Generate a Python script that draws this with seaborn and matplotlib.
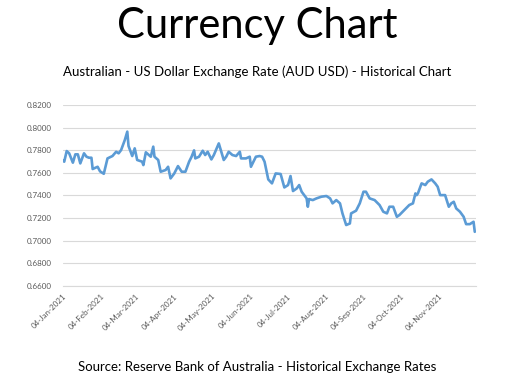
import pandas as pd
import numpy as np
import matplotlib.pyplot as plt
import matplotlib.dates as mdates
import seaborn as sns

# --- DATA ---
start_date = '2021-01-04'

# days since 04-Jan-2021
day_offsets = [0, 1, 3, 5, 8, 10, 12, 14, 17, 19, 21, 23, 24, 28, 30, 33, 36, 40, 43, 45,
               47, 50, 52, 53, 56, 58, 60, 64, 65, 67, 71, 73, 74, 77, 79, 83, 85, 87, 90, 93,
               96, 99, 102, 104, 106, 107, 110, 113, 115, 117, 120, 122, 126, 130, 132, 134,
               137, 140, 143, 144, 148, 151, 152, 156, 159,
               161, 163, 166, 169, 172, 176, 179, 182, 184, 186, 189, 191, 193, 197, 198, 199,
               202, 205, 209, 213, 216, 218, 221, 224, 226, 229, 232, 233, 237, 240, 243, 245,
               248, 252, 256, 259, 262, 264, 267, 270, 272, 276, 280, 283, 285, 286, 287, 290,
               293, 295, 298, 301, 303, 305, 309, 312, 314, 316, 318, 321, 324, 326, 329, 332, 333]

aud_usd = [0.7707, 0.7698, 0.7792, 0.7772, 0.7689, 0.7763, 0.7763, 0.7683, 0.7772, 0.7742,
           0.7733, 0.7733, 0.7633, 0.7653, 0.7612, 0.7591, 0.7727, 0.7748, 0.7786, 0.7772,
           0.7801, 0.7890, 0.7964, 0.7837, 0.7748, 0.7816, 0.7713, 0.7698, 0.7668, 0.7781,
           0.7742, 0.7831, 0.7742, 0.7713, 0.7609, 0.7624, 0.7653, 0.7550, 0.7594, 0.7659,
           0.7609, 0.7609, 0.7698, 0.7742, 0.7798, 0.7727, 0.7742, 0.7795, 0.7757, 0.7786,
           0.7718, 0.7757, 0.7860, 0.7713, 0.7742, 0.7786, 0.7757, 0.7748, 0.7786, 0.7727,
           0.7727, 0.7742, 0.7653, 0.7742, 0.7748,
           0.7742, 0.7698, 0.7541, 0.7506, 0.7594, 0.7589, 0.7470, 0.7491, 0.7571, 0.7438,
           0.7461, 0.7491, 0.7432, 0.7373, 0.7299, 0.7367, 0.7358, 0.7373, 0.7388, 0.7394,
           0.7373, 0.7329, 0.7358, 0.7329, 0.7240, 0.7137, 0.7151, 0.7240, 0.7264, 0.7329,
           0.7432, 0.7432, 0.7373, 0.7358, 0.7314, 0.7255, 0.7240, 0.7299, 0.7299, 0.7210,
           0.7225, 0.7270, 0.7314, 0.7329, 0.7417, 0.7402, 0.7417, 0.7506, 0.7491, 0.7521,
           0.7541, 0.7506, 0.7476, 0.7402, 0.7402, 0.7299, 0.7329, 0.7343, 0.7284, 0.7255,
           0.7210, 0.7145, 0.7145, 0.7166, 0.7077]

tick_dates = ['2021-01-04', '2021-02-04', '2021-03-04', '2021-04-04', '2021-05-04', '2021-06-04',
              '2021-07-04', '2021-08-04', '2021-09-04', '2021-10-04', '2021-11-04', '2021-12-04']
tick_labels = ['04-Jan-2021', '04-Feb-2021', '04-Mar-2021', '04-Apr-2021', '04-May-2021',
               '04-Jun-2021', '04-Jul-2021', '04-Aug-2021', '04-Sep-2021', '04-Oct-2021',
               '04-Nov-2021', '']
y_ticks = [0.66, 0.68, 0.70, 0.72, 0.74, 0.76, 0.78, 0.80, 0.82]

df = pd.DataFrame({
    'Date': pd.Timestamp(start_date) + pd.to_timedelta(day_offsets, unit='D'),
    'Rate': aud_usd,
})

# --- PLOT ---
sns.set_style('white')
plt.rcParams['font.family'] = ['Lato', 'DejaVu Sans']

fig = plt.figure(figsize=(5.15, 3.79), dpi=100)
ax = fig.add_axes([0.1223, 0.2462, 0.8020, 0.4768])

sns.lineplot(data=df, x='Date', y='Rate', ax=ax, color='#5B9BD5', linewidth=1.9)

ax.set_ylim(0.66, 0.82)
ax.set_yticks(y_ticks)
ax.set_yticklabels([f'{v:.4f}' for v in y_ticks], fontsize=5.8, color='#595959')
ax.yaxis.grid(True, color='#d9d9d9', linewidth=0.8)
ax.xaxis.grid(False)

ticks = pd.to_datetime(tick_dates)
ax.set_xlim(ticks[0], ticks[-1])
ax.set_xticks(ticks)
ax.set_xticklabels(tick_labels, rotation=45, ha='right', rotation_mode='anchor',
                   fontsize=5.8, color='#595959')
ax.tick_params(axis='x', length=3, color='#d9d9d9', pad=2)
ax.tick_params(axis='y', length=0, pad=8)
ax.set_xlabel('')
ax.set_ylabel('')
for s in ['top', 'right', 'left']:
    ax.spines[s].set_visible(False)
ax.spines['bottom'].set_color('#d9d9d9')
ax.spines['bottom'].set_linewidth(0.8)

fig.text(0.5, 0.900, 'Currency Chart', ha='center', va='baseline', fontsize=30, color='black')
fig.text(0.5, 0.81, 'Australian - US Dollar Exchange Rate (AUD USD) - Historical Chart',
         ha='center', va='center', fontsize=9.5, color='black')
fig.text(0.5, 0.032, 'Source: Reserve Bank of Australia - Historical Exchange Rates',
         ha='center', va='center', fontsize=9.5, color='black')

fig.savefig('out.png', dpi=100)
